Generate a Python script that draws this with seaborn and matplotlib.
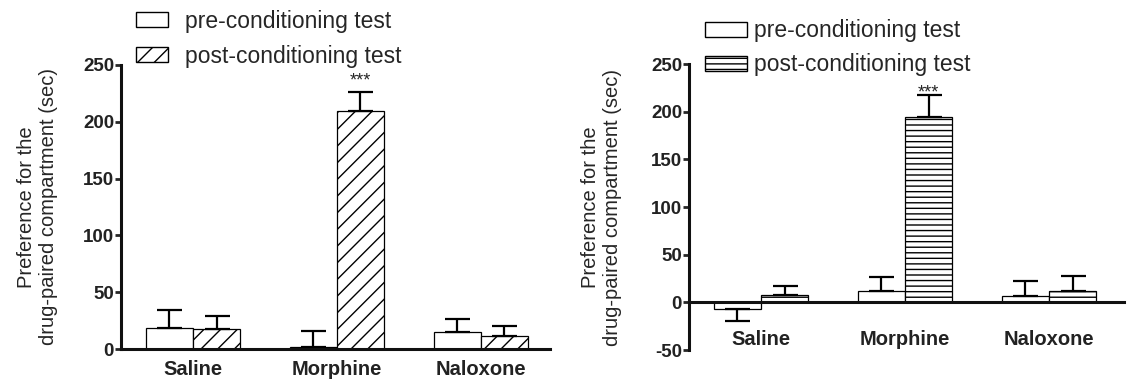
import pandas as pd
import matplotlib
matplotlib.use("Agg")
import matplotlib.pyplot as plt
import seaborn as sns
from matplotlib.patches import Patch

sns.set_theme(style="white")
plt.rcParams['font.family'] = ['Liberation Sans', 'DejaVu Sans']
plt.rcParams['hatch.linewidth'] = 1.0
plt.rcParams['hatch.color'] = 'black'
plt.rcParams['axes.unicode_minus'] = False

# Dados (média e erro padrão)
grupos = ['Saline', 'Morphine', 'Naloxone']
testes = ['pre-conditioning test', 'post-conditioning test']

esq_pre = [18.5, 1.5, 15.0]
esq_pre_err = [15.5, 14.5, 11.5]
esq_pos = [17.5, 209.5, 11.5]
esq_pos_err = [11.5, 16.5, 8.5]

dir_pre = [-6.5, 11.5, 6.5]
dir_pre_err = [13.5, 14.8, 15.5]
dir_pos = [8.0, 194.0, 11.5]
dir_pos_err = [9.0, 23.0, 16.5]

esq_yticks = [0, 50, 100, 150, 200, 250]
dir_yticks = [-50, 0, 50, 100, 150, 200, 250]

ylabel = 'Preference for the\ndrug-paired compartment (sec)'


def painel(ax, pre, pre_err, pos, pos_err, hachura, ylim, yticks, xlim, xpad, labelx, estrela_dy):
    df = pd.DataFrame({
        'grupo': grupos * 2,
        'teste': [testes[0]] * 3 + [testes[1]] * 3,
        'valor': pre + pos,
    })
    sns.barplot(data=df, x='grupo', y='valor', hue='teste', order=grupos, hue_order=testes,
                palette=['white', 'white'], saturation=1, edgecolor='black', linewidth=0.9,
                width=0.654, errorbar=None, legend=False, ax=ax)

    # barras de erro unilaterais
    for cont, h, errs in zip(ax.containers, ['', hachura], [pre_err, pos_err]):
        for bar, e in zip(cont, errs):
            bar.set_hatch(h)
            x = bar.get_x() + bar.get_width() / 2
            y = bar.get_y() + bar.get_height()
            yerr = [[0], [e]] if bar.get_height() >= 0 else [[e], [0]]
            ax.errorbar(x, y, yerr=yerr, fmt='none', ecolor='black', elinewidth=1.6,
                        capsize=9, capthick=1.6)

    # asteriscos sobre a morfina pós-condicionamento
    b = ax.containers[1][1]
    topo = b.get_height() + pos_err[1]
    ax.text(b.get_x() + b.get_width() / 2, topo + estrela_dy, '***', ha='center', va='bottom',
            fontsize=13)

    ax.set_ylim(*ylim)
    ax.set_xlim(*xlim)
    ax.set_yticks(yticks)
    ax.set_xlabel('')
    ax.set_ylabel(ylabel, fontsize=14.5)
    ax.yaxis.set_label_coords(labelx, 0.5)

    sns.despine(ax=ax)
    ax.spines['bottom'].set_position(('data', 0))
    for s in ['left', 'bottom']:
        ax.spines[s].set_linewidth(2.2)
        ax.spines[s].set_color('#111111')
    ax.tick_params(axis='y', left=True, direction='out', length=4, width=2, labelsize=13.5, pad=1)
    ax.tick_params(axis='x', bottom=False, length=0, labelsize=14.5, pad=xpad)
    for lbl in ax.get_yticklabels() + ax.get_xticklabels():
        lbl.set_fontweight('bold')
        lbl.set_color('#222222')


fig = plt.figure(figsize=(11.28, 3.88), dpi=100)
ax1 = fig.add_axes([0.1073, 0.1005, 0.3803, 0.7320])
ax2 = fig.add_axes([0.6108, 0.0979, 0.3856, 0.7371])

painel(ax1, esq_pre, esq_pre_err, esq_pos, esq_pos_err, '//', (0, 250), esq_yticks,
       (-0.5, 2.48), 8, -0.147, 2)
painel(ax2, dir_pre, dir_pre_err, dir_pos, dir_pos_err, '---', (-50, 250), dir_yticks,
       (-0.5, 2.52), 20, -0.154, -6)

# legendas
alca1 = [Patch(facecolor='white', edgecolor='black', linewidth=1.0),
         Patch(facecolor='white', edgecolor='black', linewidth=1.0, hatch='//')]
fig.legend(alca1, testes, loc='upper left', bbox_to_anchor=(136 / 1128, 0.975),
           frameon=False, fontsize=16.5, handlelength=1.4, handleheight=0.61,
           handletextpad=0.74, labelspacing=0.52, borderpad=0, borderaxespad=0)

alca2 = [Patch(facecolor='white', edgecolor='black', linewidth=1.0),
         Patch(facecolor='white', edgecolor='black', linewidth=1.0, hatch='---')]
fig.legend(alca2, testes, loc='upper left', bbox_to_anchor=(705 / 1128, 0.95),
           frameon=False, fontsize=16.5, handlelength=1.83, handleheight=0.66,
           handletextpad=0.3, labelspacing=0.48, borderpad=0, borderaxespad=0)

fig.savefig('out.png', dpi=100)
